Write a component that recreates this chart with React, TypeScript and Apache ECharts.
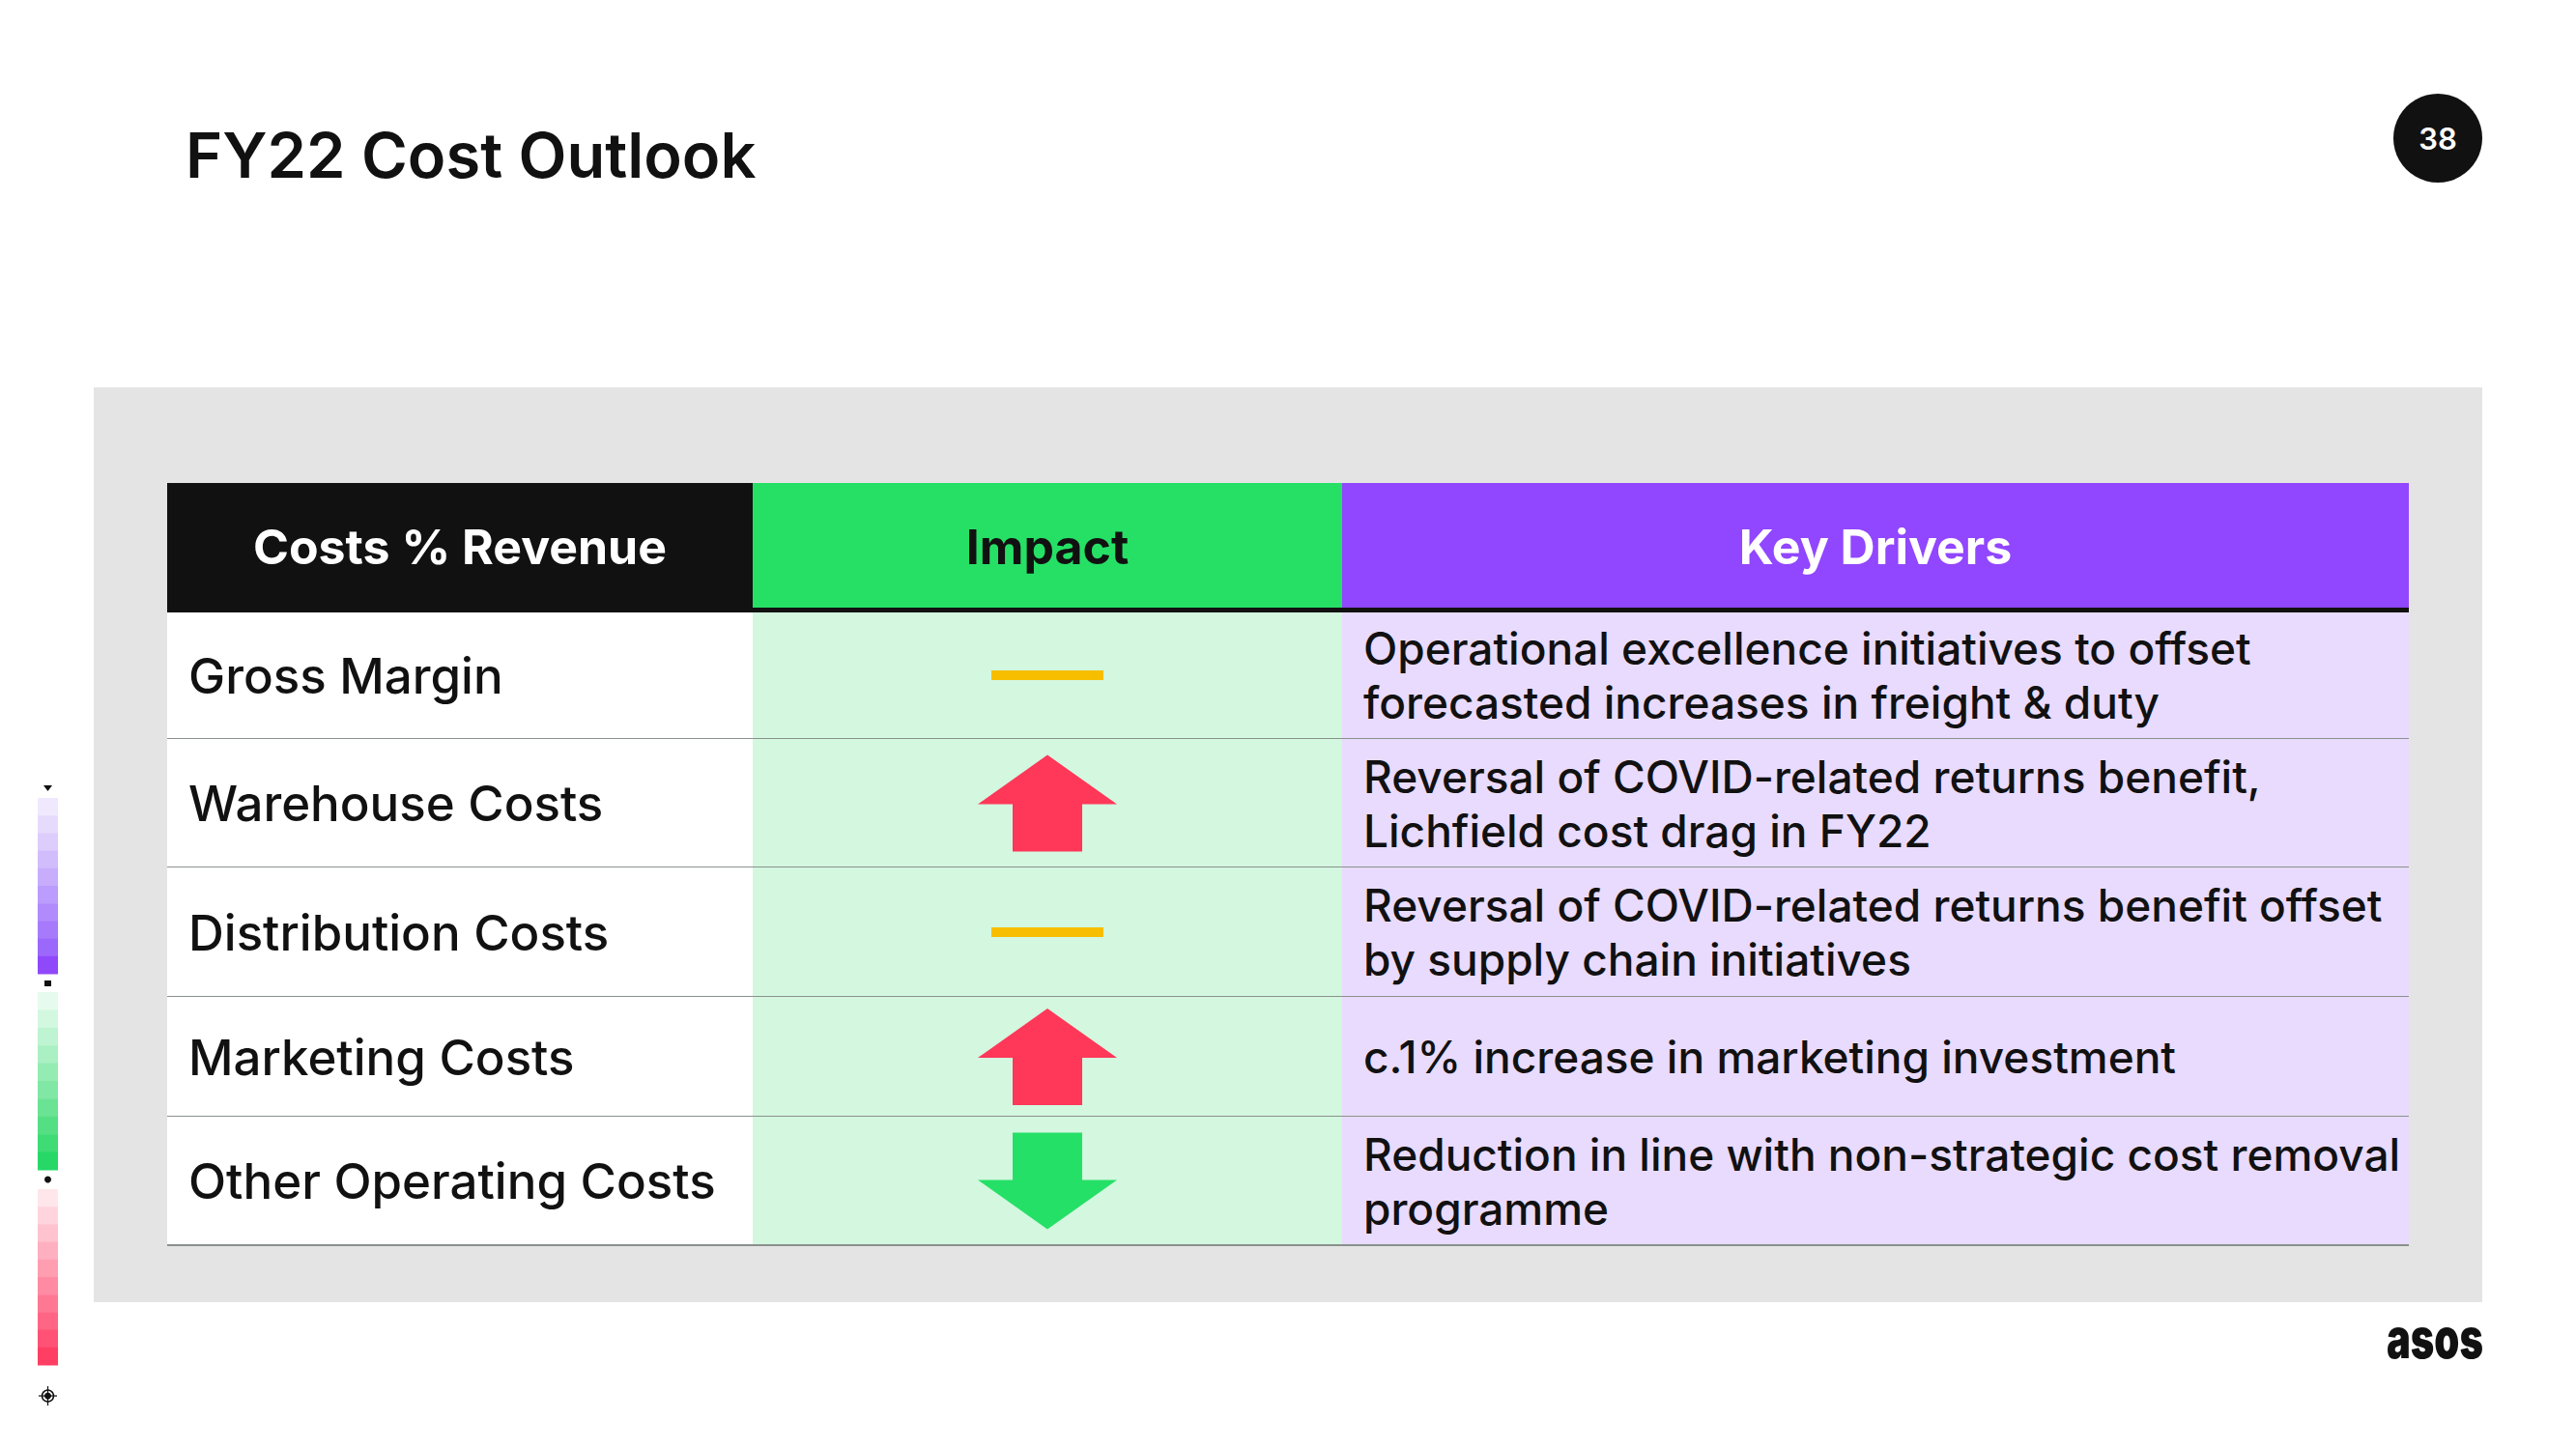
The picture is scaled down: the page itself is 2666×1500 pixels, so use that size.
import React, { useEffect, useRef } from "react";
import * as echarts from "echarts";

const columnHeaders = ["Costs % Revenue", "Impact", "Key Drivers"];
const costCategories = [
  "Gross Margin",
  "Warehouse Costs",
  "Distribution Costs",
  "Marketing Costs",
  "Other Operating Costs",
];
const impacts = ["flat", "up", "flat", "up", "down"];
const keyDrivers = [
  "Operational excellence initiatives to offset\nforecasted increases in freight & duty",
  "Reversal of COVID-related returns benefit,\nLichfield cost drag in FY22",
  "Reversal of COVID-related returns benefit offset\nby supply chain initiatives",
  "c.1% increase in marketing investment",
  "Reduction in line with non-strategic cost removal\nprogramme",
];
const pageTitle = "FY22 Cost Outlook";
const pageNumber = "38";

// layout / style constants
const FONT = "Inter, 'Noto Sans', sans-serif";
const colEdges = [0, 606 / 2320, 1216 / 2320, 1];
const rowEdges = [0, 133, 265, 398, 532, 656, 789];
const headerFills = ["#111111", "#26e066", "#9146ff"];
const headerText = ["#ffffff", "#111111", "#ffffff"];
const cellFills = ["#ffffff", "#d3f7df", "#e9dbfd"];
const purpleSteps = ["#f0e9fe", "#e6dbfd", "#dccdfd", "#d2bdfc", "#c7adfc", "#bc9cfc", "#b18bfb", "#a67afb", "#9b68fb", "#9048fb"];
const greenSteps = ["#e6fbed", "#d2f8df", "#bef4d1", "#aaf0c2", "#95ecb3", "#81e7a4", "#6be394", "#55df84", "#3fdb75", "#27d866"];
const pinkSteps = ["#ffe6eb", "#ffd4dd", "#ffc2cf", "#ffb0c0", "#ff9eb1", "#ff8ba2", "#ff7893", "#ff6584", "#ff5275", "#ff3e64"];

function renderItem(params: any, api: any) {
  const r = api.value(1) as number;
  const top = api.coord([0, rowEdges[r]])[1];
  const bottom = api.coord([0, rowEdges[r + 1]])[1];
  const bandH = bottom - top;
  const cy = (top + bottom) / 2;
  const xs = colEdges.map((f) => api.coord([f, rowEdges[r]])[0]);
  const children: any[] = [];
  if (r === 0) {
    for (let c = 0; c < 3; c++) {
      children.push({
        type: "rect",
        shape: { x: xs[c], y: top, width: xs[c + 1] - xs[c], height: bandH },
        style: { fill: headerFills[c] },
      });
      children.push({
        type: "text",
        style: {
          text: columnHeaders[c],
          x: (xs[c] + xs[c + 1]) / 2,
          y: cy - 1,
          fill: headerText[c],
          fontSize: 50,
          fontWeight: 700,
          fontFamily: FONT,
          align: "center",
          verticalAlign: "middle",
        },
      });
    }
    children.push({
      type: "rect",
      shape: { x: xs[0], y: top + bandH - 4, width: xs[3] - xs[0], height: 5 },
      style: { fill: "#111111" },
    });
    return { type: "group", children };
  }
  const i = r - 1;
  for (let c = 0; c < 3; c++) {
    children.push({
      type: "rect",
      shape: { x: xs[c], y: top + (i === 0 ? 1 : 0), width: xs[c + 1] - xs[c], height: bandH },
      style: { fill: cellFills[c] },
    });
  }
  children.push({
    type: "line",
    shape: { x1: xs[0], y1: bottom, x2: xs[3], y2: bottom },
    style: { stroke: "#8a918d", lineWidth: 2 },
  });
  children.push({
    type: "text",
    style: {
      text: costCategories[i],
      x: xs[0] + 22,
      y: cy,
      fill: "#111111",
      fontSize: 51,
      fontWeight: 500,
      fontFamily: FONT,
      align: "left",
      verticalAlign: "middle",
    },
  });
  children.push({
    type: "text",
    style: {
      text: keyDrivers[i],
      x: xs[2] + 22,
      y: cy,
      fill: "#111111",
      fontSize: 46,
      fontWeight: 500,
      fontFamily: FONT,
      lineHeight: 56,
      align: "left",
      verticalAlign: "middle",
    },
  });
  const cx = (xs[1] + xs[2]) / 2;
  const kind = impacts[i];
  if (kind === "flat") {
    children.push({
      type: "rect",
      shape: { x: cx - 58, y: cy - 5, width: 116, height: 10 },
      style: { fill: "#f7be00" },
    });
  } else {
    const s = kind === "up" ? 1 : -1;
    const h = 50;
    const pts = [
      [cx, cy - s * h],
      [cx + 72, cy - s * (h - 51)],
      [cx + 36, cy - s * (h - 51)],
      [cx + 36, cy + s * h],
      [cx - 36, cy + s * h],
      [cx - 36, cy - s * (h - 51)],
      [cx - 72, cy - s * (h - 51)],
    ];
    children.push({
      type: "polygon",
      shape: { points: pts },
      style: { fill: kind === "up" ? "#ff3759" : "#25e066" },
    });
  }
  return { type: "group", children };
}

function stripRects(colors: string[], y0: number, y1: number) {
  const h = (y1 - y0) / colors.length;
  return colors.map((c, k) => ({
    type: "rect",
    shape: { x: 39, y: y0 + k * h, width: 21, height: h + 0.5 },
    style: { fill: c },
  }));
}

export default function App() {
  const ref = useRef<HTMLDivElement>(null);
  useEffect(() => {
    document.body.style.margin = "0";
    const chart = echarts.init(ref.current!, null, { renderer: "svg" });
    const rowData = [0, ...costCategories.map((_, k) => k + 1)].map((r) => [0.5, r]);
    chart.setOption({
      animation: false,
      backgroundColor: "#ffffff",
      grid: { left: 173, top: 500, width: 2320, height: 789 },
      xAxis: { type: "value", min: 0, max: 1, show: false },
      yAxis: { type: "value", min: 0, max: 789, inverse: true, show: false },
      graphic: [
        { type: "rect", z: -10, shape: { x: 97, y: 401, width: 2472, height: 947 }, style: { fill: "#e4e4e4" } },
        {
          type: "text", x: 192, y: 160,
          style: { text: pageTitle, fill: "#111111", fontSize: 65, fontWeight: 600, fontFamily: FONT, align: "left", verticalAlign: "middle" },
        },
        { type: "circle", shape: { cx: 2523, cy: 143, r: 46 }, style: { fill: "#111111" } },
        {
          type: "text", x: 2523, y: 143,
          style: { text: pageNumber, fill: "#ffffff", fontSize: 31, fontWeight: 600, fontFamily: FONT, align: "center", verticalAlign: "middle" },
        },
        {
          type: "text", x: 2570, y: 1385, scaleX: 0.72,
          style: { text: "asos", fill: "#111111", fontSize: 58, fontWeight: 900, fontFamily: "Inter, sans-serif", align: "right", verticalAlign: "middle", letterSpacing: -4 } as any,
        },
        ...stripRects(purpleSteps, 826, 1008),
        ...stripRects(greenSteps, 1027, 1211),
        ...stripRects(pinkSteps, 1231, 1413),
        { type: "polygon", shape: { points: [[45, 813], [54, 813], [49.5, 819]] }, style: { fill: "#111111" } },
        { type: "rect", shape: { x: 46, y: 1015, width: 7, height: 6 }, style: { fill: "#111111" } },
        { type: "circle", shape: { cx: 49.5, cy: 1221, r: 3.5 }, style: { fill: "#111111" } },
        { type: "circle", shape: { cx: 49.5, cy: 1445, r: 6 }, style: { fill: "none", stroke: "#111111", lineWidth: 1.5 } },
        { type: "circle", shape: { cx: 49.5, cy: 1445, r: 3.5 }, style: { fill: "#111111" } },
        { type: "line", shape: { x1: 40, y1: 1445, x2: 59, y2: 1445 }, style: { stroke: "#111111", lineWidth: 1.2 } },
        { type: "line", shape: { x1: 49.5, y1: 1435, x2: 49.5, y2: 1455 }, style: { stroke: "#111111", lineWidth: 1.2 } },
      ],
      series: [
        {
          type: "custom",
          renderItem,
          data: rowData,
          clip: false,
          silent: true,
          z: 10,
        },
      ],
    });
    return () => chart.dispose();
  }, []);
  return <div ref={ref} style={{ width: 2666, height: 1500, overflow: "hidden" }} />;
}
